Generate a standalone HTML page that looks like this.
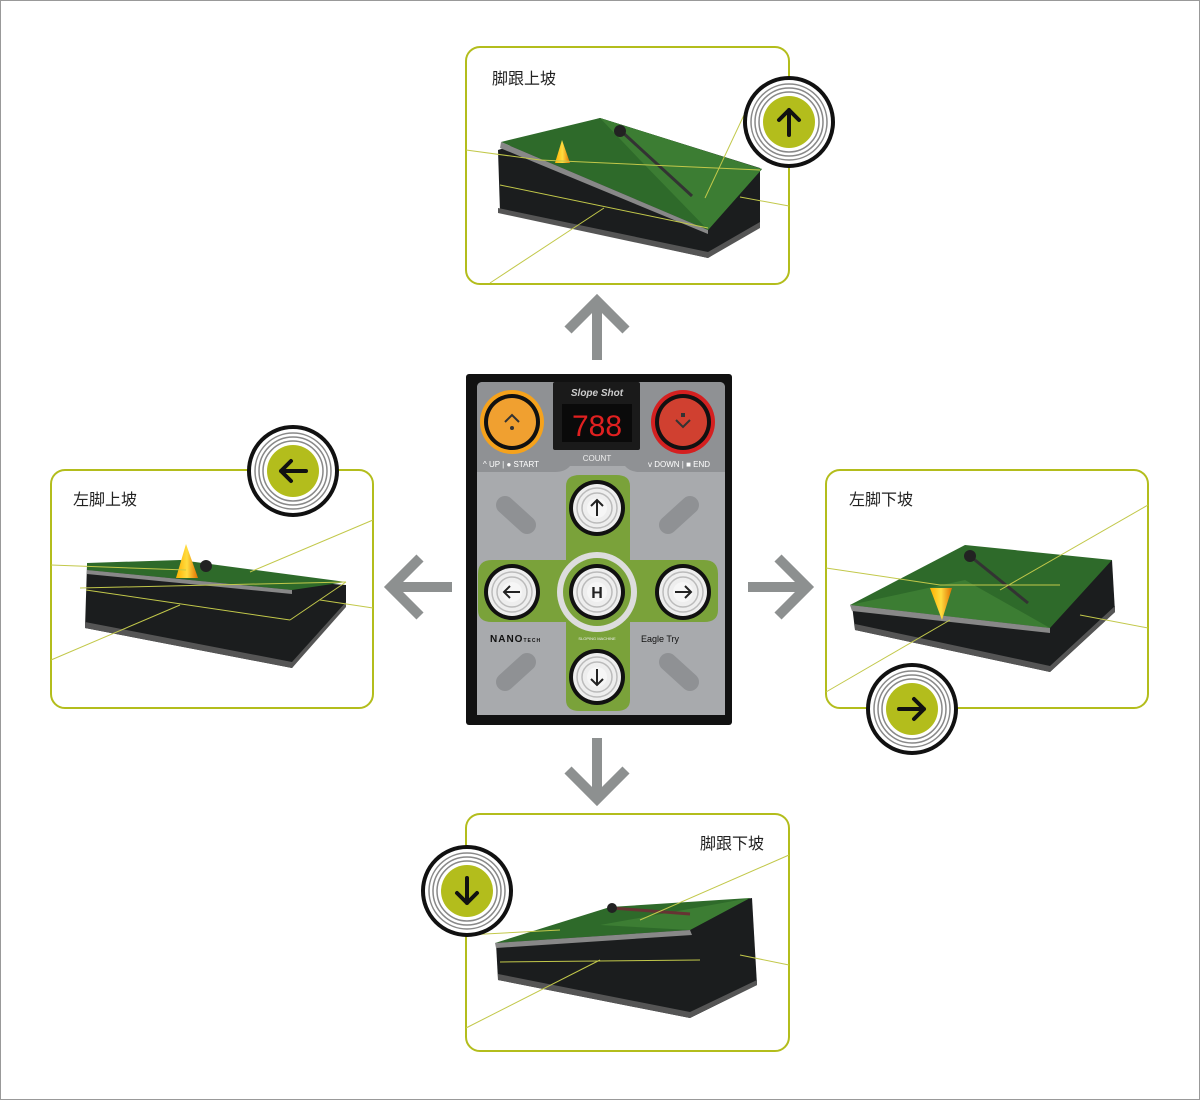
<!DOCTYPE html>
<html><head><meta charset="utf-8"><style>
html,body{margin:0;padding:0;background:#fff}
body{width:1200px;height:1100px;overflow:hidden}
svg text{font-family:"Liberation Sans","Noto Sans CJK SC",sans-serif}
</style></head><body>
<svg width="1200" height="1100" viewBox="0 0 1200 1100" xmlns="http://www.w3.org/2000/svg">
<defs>
<g id="ring">
 <circle r="44" fill="#fff" stroke="#111" stroke-width="4"/>
 <circle r="38" fill="none" stroke="#888" stroke-width="1.5"/>
 <circle r="34" fill="none" stroke="#888" stroke-width="1.5"/>
 <circle r="30" fill="none" stroke="#888" stroke-width="1.5"/>
 <circle r="26" fill="#b3bd1c"/>
</g>
<g id="btn">
 <circle r="28" fill="#111"/>
 <circle r="24" fill="#eee"/>
 <circle r="20" fill="none" stroke="#bbb" stroke-width="1.5"/>
 <circle r="15" fill="none" stroke="#bbb" stroke-width="1.5"/>
 <circle r="10" fill="#f6f6f6"/>
</g>
<linearGradient id="cone" x1="0" x2="1"><stop offset="0" stop-color="#ffb000"/><stop offset="0.5" stop-color="#ffdd40"/><stop offset="1" stop-color="#e07000"/></linearGradient>
</defs>
<rect x="0.5" y="0.5" width="1199" height="1099" fill="#fff" stroke="#999"/>

<!-- panels -->
<g fill="none" stroke="#b3bd1c" stroke-width="2">
<rect x="466" y="47" width="323" height="237" rx="14"/>
<rect x="51" y="470" width="322" height="238" rx="14"/>
<rect x="826" y="470" width="322" height="238" rx="14"/>
<rect x="466" y="814" width="323" height="237" rx="14"/>
</g>
<g font-size="16" fill="#222">
<text x="492" y="84">脚跟上坡</text>
<text x="73" y="505">左脚上坡</text>
<text x="849" y="505">左脚下坡</text>
<text x="700" y="849">脚跟下坡</text>
</g>

<!-- top mat -->
<polygon points="498,150 600,118 760,168 760,225 708,258 500,212" fill="#1b1d1e"/>
<polygon points="498,208 708,252 760,222 760,228 708,258 498,213" fill="#555"/>
<polygon points="501,142 600,118 762,169 708,230" fill="#2e6a2a"/>
<polygon points="600,118 762,169 708,230 640,160" fill="#3c7d33"/>
<polygon points="501,142 708,230 708,234 500,148" fill="#888"/>
<line x1="620" y1="130" x2="692" y2="196" stroke="#333" stroke-width="3"/>
<circle cx="620" cy="131" r="6" fill="#222"/>
<polygon points="562,140 555,163 570,163" fill="url(#cone)"/>
<g stroke="#c2c84a" stroke-width="1" fill="none">
<line x1="466" y1="150" x2="540" y2="160"/><line x1="540" y1="160" x2="760" y2="170"/>
<line x1="705" y1="198" x2="744" y2="115"/><line x1="500" y1="185" x2="708" y2="228"/>
<line x1="490" y1="283" x2="604" y2="208"/><line x1="740" y1="197" x2="789" y2="206"/>
</g>
<use href="#ring" x="789" y="122"/>
<path d="M789,135 V110 M779,120 L789,110 L799,120" stroke="#111" stroke-width="4" fill="none" stroke-linecap="round" stroke-linejoin="round"/>

<!-- left mat -->
<polygon points="87,565 346,585 346,605 292,668 85,628" fill="#1b1d1e"/>
<polygon points="85,622 292,662 346,602 346,607 292,668 85,628" fill="#555"/>
<polygon points="87,563 180,560 346,582 292,590 87,570" fill="#2e6a2a"/>
<polygon points="87,570 292,590 292,594 87,574" fill="#888"/>
<polygon points="186,544 176,578 198,578" fill="url(#cone)"/>
<circle cx="206" cy="566" r="6" fill="#222"/>
<g stroke="#c2c84a" stroke-width="1" fill="none">
<line x1="51" y1="565" x2="186" y2="570"/><line x1="80" y1="588" x2="346" y2="582"/>
<line x1="86" y1="590" x2="290" y2="620"/><line x1="290" y1="620" x2="346" y2="582"/>
<line x1="51" y1="660" x2="180" y2="605"/><line x1="250" y1="572" x2="373" y2="520"/>
<line x1="320" y1="600" x2="373" y2="608"/>
</g>
<use href="#ring" x="293" y="471"/>
<path d="M306,471 H281 M291,461 L281,471 L291,481" stroke="#111" stroke-width="4" fill="none" stroke-linecap="round" stroke-linejoin="round"/>

<!-- right mat -->
<polygon points="852,605 1112,560 1115,612 1050,672 855,630" fill="#1b1d1e"/>
<polygon points="855,624 1050,666 1115,606 1115,612 1050,672 855,630" fill="#555"/>
<polygon points="850,605 965,545 1112,560 1050,628" fill="#2e6a2a"/>
<polygon points="850,605 965,580 1050,628" fill="#3c7d33"/>
<polygon points="850,605 1050,628 1050,633 852,611" fill="#888"/>
<line x1="970" y1="556" x2="1028" y2="603" stroke="#333" stroke-width="3"/>
<circle cx="970" cy="556" r="6" fill="#222"/>
<polygon points="930,588 952,588 942,620" fill="url(#cone)"/>
<g stroke="#c2c84a" stroke-width="1" fill="none">
<line x1="826" y1="568" x2="940" y2="585"/><line x1="940" y1="585" x2="1060" y2="585"/>
<line x1="1000" y1="590" x2="1148" y2="505"/><line x1="826" y1="692" x2="950" y2="620"/>
<line x1="1080" y1="615" x2="1148" y2="628"/>
</g>
<use href="#ring" x="912" y="709"/>
<path d="M899,709 H924 M914,699 L924,709 L914,719" stroke="#111" stroke-width="4" fill="none" stroke-linecap="round" stroke-linejoin="round"/>

<!-- bottom mat -->
<polygon points="496,943 752,898 757,985 690,1018 498,980" fill="#1b1d1e"/>
<polygon points="498,974 690,1012 757,980 757,985 690,1018 498,980" fill="#555"/>
<polygon points="495,943 610,907 750,898 690,930" fill="#2e6a2a"/>
<polygon points="600,925 750,898 690,930" fill="#3c7d33"/>
<polygon points="495,943 690,930 692,935 496,948" fill="#888"/>
<line x1="612" y1="908" x2="690" y2="914" stroke="#633" stroke-width="3"/>
<circle cx="612" cy="908" r="5" fill="#222"/>
<g stroke="#c2c84a" stroke-width="1" fill="none">
<line x1="466" y1="935" x2="560" y2="930"/><line x1="640" y1="920" x2="789" y2="855"/>
<line x1="500" y1="962" x2="700" y2="960"/><line x1="466" y1="1028" x2="600" y2="960"/>
<line x1="740" y1="955" x2="789" y2="965"/>
</g>
<use href="#ring" x="467" y="891"/>
<path d="M467,878 V903 M457,893 L467,903 L477,893" stroke="#111" stroke-width="4" fill="none" stroke-linecap="round" stroke-linejoin="round"/>

<!-- gray arrows -->
<g stroke="#8d9090" stroke-width="10" fill="none" stroke-linejoin="miter">
<path d="M597,360 V302 M568,330 L597,301 L626,330"/>
<path d="M452,587 H392 M420,558 L391,587 L420,616"/>
<path d="M748,587 H806 M778,558 L807,587 L778,616"/>
<path d="M597,738 V800 M568,770 L597,799 L626,770"/>
</g>

<!-- controller -->
<rect x="466" y="374" width="266" height="351" rx="3" fill="#111"/>
<path d="M477,388 Q477,382 483,382 H719 Q725,382 725,388 V715 H477 Z" fill="#a8aaad"/>
<path d="M477,388 Q477,382 483,382 H719 Q725,382 725,388 V472 H640 Q630,472 625,466 H570 Q565,472 555,472 H477 Z" fill="#8f9194"/>
<rect x="553" y="382" width="87" height="68" rx="2" fill="#1a1a1a"/>
<text x="597" y="396" font-size="10" font-style="italic" font-weight="bold" fill="#ccc" text-anchor="middle">Slope Shot</text>
<rect x="562" y="404" width="70" height="38" fill="#0a0a0a"/>
<text x="597" y="436" font-size="30" fill="#e02020" text-anchor="middle" font-family="Liberation Mono">788</text>
<text x="597" y="461" font-size="8" fill="#eee" text-anchor="middle">COUNT</text>
<text x="483" y="467" font-size="8" fill="#fff">^ UP | ● START</text>
<text x="648" y="467" font-size="8" fill="#fff">v DOWN | ■ END</text>
<circle cx="512" cy="422" r="32" fill="#f5a21c"/><circle cx="512" cy="422" r="28" fill="#111"/><circle cx="512" cy="422" r="24" fill="#f0a030"/>
<path d="M505,422 L512,415 L519,422" stroke="#333" stroke-width="2" fill="none"/><circle cx="512" cy="428" r="2" fill="#333"/>
<circle cx="683" cy="422" r="32" fill="#d42020"/><circle cx="683" cy="422" r="28" fill="#111"/><circle cx="683" cy="422" r="24" fill="#d04030"/>
<path d="M676,420 L683,427 L690,420" stroke="#333" stroke-width="2" fill="none"/><rect x="681" y="413" width="4" height="4" fill="#333"/>
<!-- green cross -->
<path d="M566,486 Q566,475 580,475 H616 Q630,475 630,486 V560 H704 Q718,560 718,574 V610 Q718,622 704,622 H630 V700 Q630,711 616,711 H580 Q566,711 566,700 V622 H492 Q478,622 478,610 V574 Q478,560 492,560 H566 Z" fill="#7aa23a"/>
<circle cx="597" cy="592" r="40" fill="#ddd"/>
<circle cx="597" cy="592" r="34" fill="#7aa23a"/>
<g stroke="#8f9194" stroke-width="18" stroke-linecap="round">
<line x1="505" y1="505" x2="527" y2="525"/><line x1="690" y1="505" x2="668" y2="525"/>
<line x1="505" y1="682" x2="527" y2="662"/><line x1="690" y1="682" x2="668" y2="662"/>
</g>
<use href="#btn" x="597" y="508"/><use href="#btn" x="512" y="592"/><use href="#btn" x="597" y="592"/><use href="#btn" x="683" y="592"/><use href="#btn" x="597" y="677"/>
<g stroke="#222" stroke-width="2" fill="none">
<path d="M597,516 V500 M591,506 L597,500 L603,506"/>
<path d="M520,592 H504 M510,586 L504,592 L510,598"/>
<path d="M675,592 H691 M685,586 L691,592 L685,598"/>
<path d="M597,669 V685 M591,679 L597,685 L603,679"/>
</g>
<text x="597" y="598" font-size="16" font-weight="bold" fill="#222" text-anchor="middle">H</text>
<text x="490" y="642" font-size="10" font-weight="bold" fill="#111" letter-spacing="1">NANO<tspan font-size="5">TECH</tspan></text>
<text x="597" y="640" font-size="4" fill="#eee" text-anchor="middle">SLOPING MACHINE</text>
<text x="641" y="642" font-size="9" fill="#111">Eagle Try</text>
</svg>
</body></html>
